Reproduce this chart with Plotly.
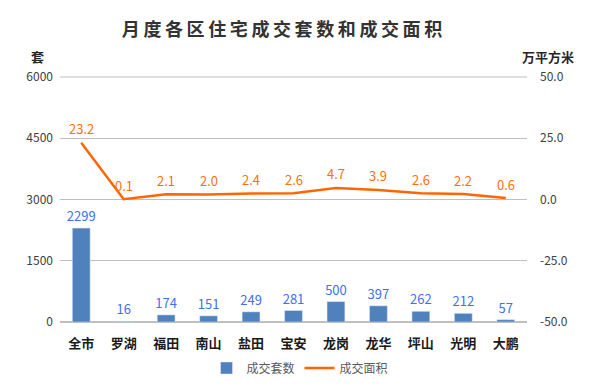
import plotly.graph_objects as go

categories = ["全市", "罗湖", "福田", "南山", "盐田", "宝安", "龙岗", "龙华", "坪山", "光明", "大鹏"]
units = [2299, 16, 174, 151, 249, 281, 500, 397, 262, 212, 57]
area = [23.2, 0.1, 2.1, 2.0, 2.4, 2.6, 4.7, 3.9, 2.6, 2.2, 0.6]
left_ticks = [0, 1500, 3000, 4500, 6000]
right_ticks = [-50, -25, 0, 25, 50]

FONT = "Noto Sans CJK SC"
OFF = 8  # page body margin
W, H = 592, 388
L, T = 60 - OFF, 77 - OFF
R, B = W - (527 - OFF), H - (322 - OFF)
pw, ph = W - L - R, H - T - B

def px_x(x):
    return (x - OFF - L) / pw

def px_y(y):
    return (H - B - (y - OFF)) / ph

fig = go.Figure()
fig.add_trace(go.Bar(
    x=categories, y=units, name="成交套数",
    marker=dict(color="#4F81BD"), width=0.42,
    text=[str(v) for v in units], textposition="outside",
    textfont=dict(color="#3F6FF5", size=13, family=FONT),
    cliponaxis=False, constraintext="none",
))
fig.add_trace(go.Scatter(
    x=categories, y=area, name="成交面积", yaxis="y2",
    mode="lines", line=dict(color="#FF6600", width=2.5),
    cliponaxis=False,
))

annotations = [
    dict(x=c, y=v, xref="x", yref="y2", text=f"{v:.1f}", showarrow=False,
         yshift=14, font=dict(color="#FF6F10", size=13, family=FONT))
    for c, v in zip(categories, area)
]
annotations += [
    dict(text="<b>套</b>", x=px_x(37), y=px_y(57), xref="paper", yref="paper",
         showarrow=False, xanchor="center", yanchor="middle",
         font=dict(size=13, color="#262626")),
    dict(text="<b>万平方米</b>", x=px_x(548), y=px_y(57), xref="paper", yref="paper",
         showarrow=False, xanchor="center", yanchor="middle",
         font=dict(size=13, color="#262626")),
]

title_text = "\u2009".join("月度各区住宅成交套数和成交面积")

fig.update_layout(
    width=W, height=H,
    paper_bgcolor="white", plot_bgcolor="white",
    margin=dict(l=L, r=R, t=T, b=B, autoexpand=False),
    font=dict(family=FONT, color="#404040", size=12),
    title=dict(text="<b>" + title_text + "</b>", x=px_x(282), xanchor="center", xref="paper",
               y=1 - (30 - OFF) / H, yanchor="middle",
               font=dict(size=18, color="#333333", family=FONT)),
    xaxis=dict(tickfont=dict(size=13, color="#1a1a1a", family=FONT), showgrid=False,
               showline=False, ticks="", automargin=False, ticklabelstandoff=12,
               tickvals=categories, ticktext=[f"<b>{c}</b>" for c in categories]),
    yaxis=dict(range=[0, 6000], tickvals=left_ticks, ticktext=[str(t) for t in left_ticks],
               showgrid=True, gridcolor="#BFBFBF", gridwidth=1, zeroline=True,
               zerolinecolor="#BFBFBF", zerolinewidth=1.5, tickfont=dict(size=12, color="#404040"),
               ticks="", automargin=False, ticklabelstandoff=6),
    yaxis2=dict(range=[-50, 50], tickvals=right_ticks, ticktext=[f"{t:.1f}" for t in right_ticks],
                overlaying="y", side="right", showgrid=False, zeroline=False,
                tickfont=dict(size=12, color="#404040"), automargin=False,
                ticklabelstandoff=12),
    legend=dict(orientation="h", x=px_x(300), xanchor="center", yref="container",
                y=(H - (368 - OFF)) / H, yanchor="middle", font=dict(size=12, color="#595959")),
    annotations=annotations,
    shapes=[dict(type="line", xref="paper", yref="paper", x0=0, x1=1, y0=1, y1=1,
                 line=dict(color="#BFBFBF", width=1))],
)

fig.write_html("out.html")
